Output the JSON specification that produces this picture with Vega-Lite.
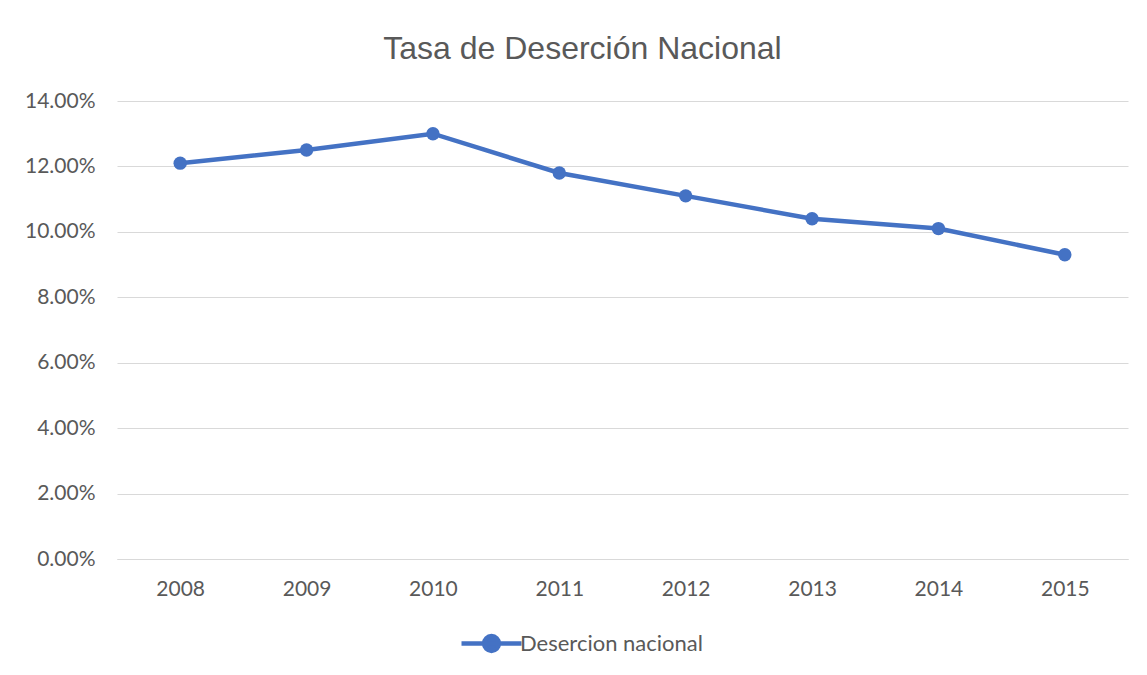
{
  "$schema": "https://vega.github.io/schema/vega-lite/v6.json",
  "width": 1011,
  "height": 458,
  "autosize": {"type": "none"},
  "padding": {"left": 117, "top": 101, "right": 19, "bottom": 116},
  "background": "white",
  "config": {"view": {"stroke": null}, "font": "Lato"},
  "title": {
    "text": "Tasa de Deserción Nacional",
    "font": "Liberation Sans",
    "fontSize": 32,
    "fontWeight": "normal",
    "color": "#595959",
    "anchor": "middle",
    "dx": -40,
    "offset": 24
  },
  "data": {
    "values": [
      {"year": "2008", "rate": 0.121, "serie": "Desercion nacional"},
      {"year": "2009", "rate": 0.125, "serie": "Desercion nacional"},
      {"year": "2010", "rate": 0.130, "serie": "Desercion nacional"},
      {"year": "2011", "rate": 0.118, "serie": "Desercion nacional"},
      {"year": "2012", "rate": 0.111, "serie": "Desercion nacional"},
      {"year": "2013", "rate": 0.104, "serie": "Desercion nacional"},
      {"year": "2014", "rate": 0.101, "serie": "Desercion nacional"},
      {"year": "2015", "rate": 0.093, "serie": "Desercion nacional"}
    ]
  },
  "mark": {
    "type": "line",
    "strokeWidth": 4.5,
    "point": {"size": 180, "filled": true, "opacity": 1}
  },
  "encoding": {
    "x": {
      "field": "year",
      "type": "ordinal",
      "scale": {"type": "point", "padding": 0.5},
      "axis": {
        "title": null,
        "labelAngle": 0,
        "ticks": false,
        "domain": true,
        "domainColor": "#d9d9d9",
        "labelColor": "#595959",
        "labelFontSize": 21,
        "labelPadding": 19,
        "grid": false
      }
    },
    "y": {
      "field": "rate",
      "type": "quantitative",
      "scale": {"domain": [0, 0.14]},
      "axis": {
        "title": null,
        "format": ".2%",
        "values": [0, 0.02, 0.04, 0.06, 0.08, 0.10, 0.12, 0.14],
        "ticks": false,
        "domain": false,
        "gridColor": "#d9d9d9",
        "gridWidth": 1.2,
        "labelColor": "#595959",
        "labelFontSize": 21,
        "labelPadding": 22
      }
    },
    "color": {
      "field": "serie",
      "type": "nominal",
      "scale": {"range": ["#4472C4"]},
      "legend": {
        "title": null,
        "orient": "none",
        "legendX": 352,
        "legendY": 520,
        "symbolType": "M-1.5,0H1.5M-0.37,0A0.37,0.37 0 1,0 0.37,0A0.37,0.37 0 1,0 -0.37,0",
        "symbolSize": 1600,
        "labelFontSize": 22,
        "labelLimit": 400,
        "labelColor": "#595959",
        "labelOffset": 6,
        "encode": {
          "symbols": {
            "update": {
              "fill": {"value": "#4472C4"},
              "stroke": {"value": "#4472C4"},
              "strokeWidth": {"value": 4.5},
              "opacity": {"value": 1}
            }
          }
        }
      }
    }
  }
}
